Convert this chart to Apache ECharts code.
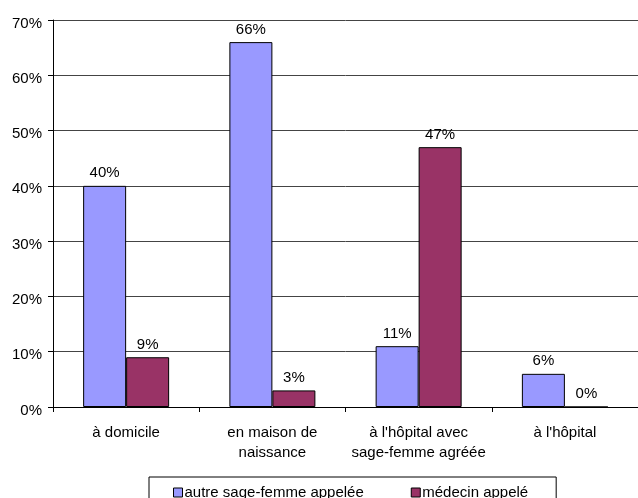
<!DOCTYPE html>
<html>
<head>
<meta charset="utf-8">
<script src="https://cdn.jsdelivr.net/npm/echarts@6/dist/echarts.min.js"></script>
<style>
  html, body { margin: 0; padding: 0; background: #fff; }
  #chart { width: 638px; height: 498px; }
</style>
</head>
<body>
<div id="chart"></div>
<script>
// Lieu de l'accouchement et intervenant appelé en renfort
const categories = ['à domicile', 'en maison de\nnaissance', "à l'hôpital avec\nsage-femme agréée", "à l'hôpital"];
const seriesNames = ['autre sage-femme appelée', 'médecin appelé'];
const sageFemme = [40, 66, 11, 6];
const medecin = [9, 3, 47, 0];
const yTicks = [0, 10, 20, 30, 40, 50, 60, 70];

const FONT = 'Liberation Sans, Arial, sans-serif';
const FS = 15;
const chart = echarts.init(document.getElementById('chart'), null, { renderer: 'canvas' });

const barLabel = {
  show: true,
  position: 'top',
  distance: 5,
  formatter: '{c}%',
  color: '#000',
  fontFamily: FONT,
  fontSize: FS
};

chart.setOption({
  animation: false,
  backgroundColor: '#fff',
  grid: { left: 53, top: 20, right: 0, bottom: 91, containLabel: false },
  xAxis: {
    type: 'category',
    data: categories,
    axisLine: { show: true, lineStyle: { color: '#000', width: 1 } },
    axisTick: { show: true, length: 5, alignWithLabel: false, lineStyle: { color: '#000' } },
    axisLabel: { color: '#000', fontFamily: FONT, fontSize: FS, lineHeight: 20, margin: 16, interval: 0 },
    splitLine: { show: false }
  },
  yAxis: {
    type: 'value',
    min: yTicks[0],
    max: yTicks[yTicks.length - 1],
    interval: 10,
    axisLine: { show: true, lineStyle: { color: '#000', width: 1 } },
    axisTick: { show: true, length: 5, lineStyle: { color: '#000' } },
    axisLabel: {
      color: '#000', fontFamily: FONT, fontSize: FS, margin: 11,
      formatter: '{value}%', verticalAlign: 'top', lineHeight: 7
    },
    splitLine: { show: true, lineStyle: { color: '#444', width: 1 } }
  },
  legend: {
    left: 149,
    top: 477,
    orient: 'horizontal',
    padding: [8, 28, 8, 24],
    borderColor: '#000',
    borderWidth: 1,
    itemWidth: 9,
    itemHeight: 9,
    itemGap: 47,
    icon: 'rect',
    textStyle: { color: '#000', fontFamily: FONT, fontSize: FS, padding: [0, 0, 0, -3] },
    itemStyle: { borderColor: '#000', borderWidth: 1 },
    data: seriesNames
  },
  series: [
    {
      name: seriesNames[0],
      type: 'bar',
      data: sageFemme,
      barWidth: 43,
      barGap: 0,
      itemStyle: { color: '#9999FF', borderColor: '#000', borderWidth: 1 },
      label: barLabel
    },
    {
      name: seriesNames[1],
      type: 'bar',
      data: medecin,
      barWidth: 43,
      barGap: 0,
      itemStyle: { color: '#993366', borderColor: '#000', borderWidth: 1 },
      label: barLabel
    }
  ]
});
</script>
</body>
</html>
